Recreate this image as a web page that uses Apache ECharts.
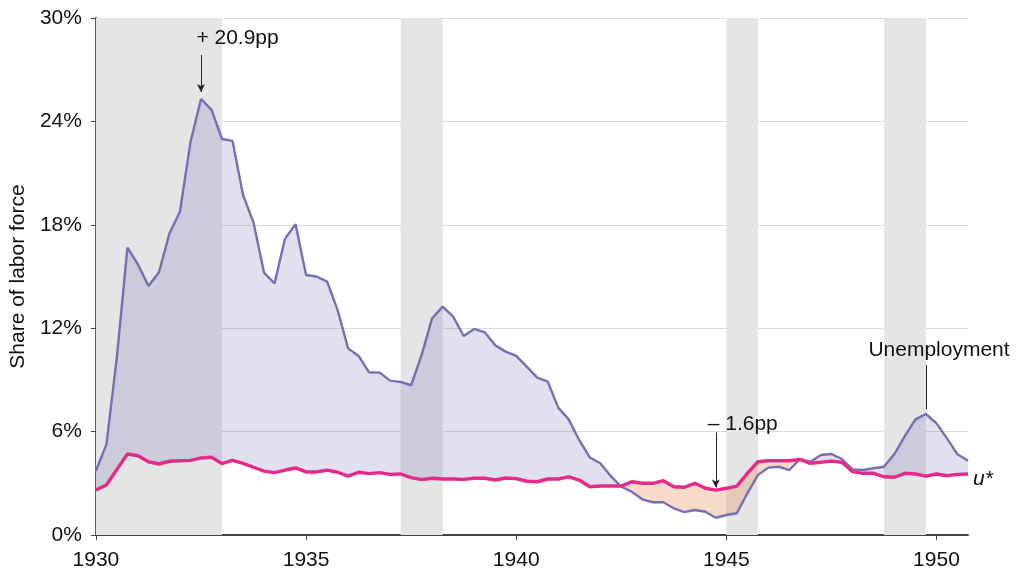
<!DOCTYPE html>
<html>
<head>
<meta charset="utf-8">
<script src="https://cdn.jsdelivr.net/npm/echarts@6/dist/echarts.min.js"></script>
<style>
  html, body { margin: 0; padding: 0; background: #fff; }
  #chart { width: 1018px; height: 574px; }
</style>
</head>
<body>
<div id="chart"></div>
<script>
// quarterly unemployment rate, 1930Q1 - 1950Q4 (%)
const unemployment = [
  3.73, 5.26, 10.35, 16.67, 15.7, 14.45, 15.25, 17.5, 18.77, 22.8,
  25.3, 24.67, 22.98, 22.87, 19.73, 18.13, 15.22, 14.6, 17.2, 18.03,
  15.09, 15.0, 14.7, 13.06, 10.83, 10.39, 9.44, 9.42, 8.96, 8.88,
  8.69, 10.45, 12.58, 13.25, 12.67, 11.55, 11.96, 11.76, 11.01, 10.64,
  10.39, 9.77, 9.13, 8.9, 7.39, 6.71, 5.5, 4.5, 4.16, 3.42,
  2.8, 2.51, 2.07, 1.9, 1.9, 1.55, 1.33, 1.45, 1.35, 1.0,
  1.16, 1.26, 2.42, 3.48, 3.91, 3.96, 3.77, 4.4, 4.25, 4.64,
  4.7, 4.41, 3.81, 3.77, 3.87, 3.96, 4.7, 5.75, 6.71, 7.02,
  6.48, 5.61, 4.68, 4.31
];
// natural rate u*
const uStar = [
  2.61, 2.9, 3.81, 4.7, 4.6, 4.25, 4.12, 4.28, 4.31, 4.33,
  4.47, 4.51, 4.14, 4.33, 4.16, 3.93, 3.71, 3.62, 3.77, 3.89,
  3.66, 3.66, 3.76, 3.64, 3.42, 3.64, 3.56, 3.62, 3.52, 3.54,
  3.33, 3.21, 3.29, 3.25, 3.25, 3.23, 3.29, 3.29, 3.19, 3.31,
  3.27, 3.12, 3.09, 3.25, 3.25, 3.37, 3.19, 2.8, 2.84, 2.84,
  2.84, 3.09, 3.0, 3.0, 3.15, 2.8, 2.77, 3.0, 2.71, 2.6,
  2.71, 2.84, 3.58, 4.25, 4.31, 4.31, 4.31, 4.39, 4.16, 4.22,
  4.29, 4.22, 3.68, 3.58, 3.58, 3.38, 3.35, 3.58, 3.54, 3.42,
  3.54, 3.44, 3.52, 3.54
];
const startYear = 1930;
const recessions = [[1930, 1933], [1937.25, 1938.25], [1945, 1945.75], [1948.75, 1949.75]];
const yTicks = [0, 6, 12, 18, 24, 30];

const years = unemployment.map((_, i) => startYear + i / 4);
const pairs = (arr) => arr.map((v, i) => [years[i], v]);

// split the gap between the two lines into runs of the same sign
function gapRegions() {
  const regions = [];
  let cur = null;
  const push = (sign, top, bot) => {
    if (!cur || cur.sign !== sign) {
      cur = { sign: sign, top: [], bot: [] };
      regions.push(cur);
    }
    cur.top.push(top);
    cur.bot.push(bot);
  };
  for (let i = 0; i < years.length; i++) {
    const d = unemployment[i] - uStar[i];
    const sign = d >= 0 ? 1 : -1;
    if (cur && cur.sign !== sign && i > 0) {
      const d0 = unemployment[i - 1] - uStar[i - 1];
      const t = d0 / (d0 - d);
      const x = years[i - 1] + t * (years[i] - years[i - 1]);
      const y = unemployment[i - 1] + t * (unemployment[i] - unemployment[i - 1]);
      cur.top.push([x, y]);
      cur.bot.push([x, y]);
      cur = null;
      push(sign, [x, y], [x, y]);
    }
    push(sign, [years[i], unemployment[i]], [years[i], uStar[i]]);
  }
  return regions;
}
const regions = gapRegions();

const purple = "#7570b3";
const pink = "#e7298a";
const font = "Liberation Sans, Arial, Helvetica, sans-serif";
const fs = 21;

const myChart = echarts.init(document.getElementById("chart"));

const textPoint = (x, y, text) => ({
  coord: [x, y],
  symbol: "circle",
  symbolSize: 1,
  itemStyle: { color: "rgba(0,0,0,0)" },
  label: { show: true, position: "inside", formatter: text, color: "#111", fontSize: fs, fontFamily: font }
});

const option = {
  animation: false,
  grid: { left: 95, right: 50, top: 18, bottom: 39 },
  xAxis: {
    type: "value",
    min: 1930,
    max: 1950.75,
    interval: 5,
    axisLine: { lineStyle: { color: "#444", width: 1.8 } },
    axisTick: { show: true, length: 5, lineStyle: { color: "#444" } },
    axisLabel: { color: "#111", fontSize: fs, fontFamily: font, margin: 15, formatter: (v) => String(v) },
    splitLine: { show: false }
  },
  yAxis: {
    type: "value",
    min: 0,
    max: 30,
    interval: 6,
    name: "Share of labor force",
    nameLocation: "middle",
    nameRotate: 90,
    nameGap: 64,
    nameTextStyle: { color: "#111", fontSize: fs, fontFamily: font },
    axisLine: { show: true, lineStyle: { color: "#444", width: 1.8 } },
    axisTick: { show: true, length: 5, lineStyle: { color: "#444" } },
    axisLabel: { color: "#111", fontSize: fs, fontFamily: font, margin: 14, formatter: (v) => yTicks.includes(v) ? v + "%" : "" },
    splitLine: { show: true, lineStyle: { color: "#dcdcdc", width: 1 } }
  },
  series: [
    {
      name: "recessions",
      type: "line",
      z: 1,
      symbol: "none",
      lineStyle: { width: 0, opacity: 0 },
      data: [],
      markArea: {
        silent: true,
        itemStyle: { color: "#e5e5e5" },
        data: recessions.map((r) => [{ xAxis: r[0] }, { xAxis: r[1] }])
      }
    },
    {
      name: "gap",
      type: "custom",
      z: 2,
      silent: true,
      data: [[startYear, 0]],
      renderItem: function (params, api) {
        return {
          type: "group",
          children: regions.map((r) => ({
            type: "polygon",
            shape: { points: r.top.concat(r.bot.slice().reverse()).map((p) => api.coord(p)) },
            style: { fill: r.sign > 0 ? "rgba(117,112,179,0.22)" : "rgba(225,138,72,0.3)", stroke: null }
          }))
        };
      }
    },
    {
      name: "Unemployment",
      type: "line",
      z: 3,
      symbol: "none",
      lineStyle: { color: purple, width: 2.4 },
      data: pairs(unemployment),
      markLine: {
        silent: true,
        symbol: ["none", "arrow"],
        symbolSize: [6, 8],
        label: { show: false },
        lineStyle: { color: "#222", width: 1, type: "solid" },
        data: [
          [{ coord: [1932.5, 27.85] }, { coord: [1932.5, 25.7] }],
          [{ coord: [1944.75, 5.95] }, { coord: [1944.75, 2.75] }],
          [{ coord: [1949.75, 9.87], symbol: "none" }, { coord: [1949.75, 7.3], symbol: "none" }]
        ]
      },
      markPoint: {
        silent: true,
        data: [
          textPoint(1933.37, 28.85, "+ 20.9pp"),
          textPoint(1945.39, 6.44, "\u2013 1.6pp"),
          textPoint(1950.06, 10.74, "Unemployment")
        ]
      }
    },
    {
      name: "u*",
      type: "line",
      z: 4,
      symbol: "none",
      lineStyle: { color: pink, width: 3.4 },
      data: pairs(uStar),
      endLabel: {
        show: true,
        formatter: "u*",
        color: "#111",
        fontSize: fs,
        fontStyle: "italic",
        fontFamily: font,
        distance: 5,
        offset: [0, 5]
      }
    }
  ]
};

myChart.setOption(option);

window.addEventListener("resize", function () {
  myChart.resize();
});
</script>
</body>
</html>
